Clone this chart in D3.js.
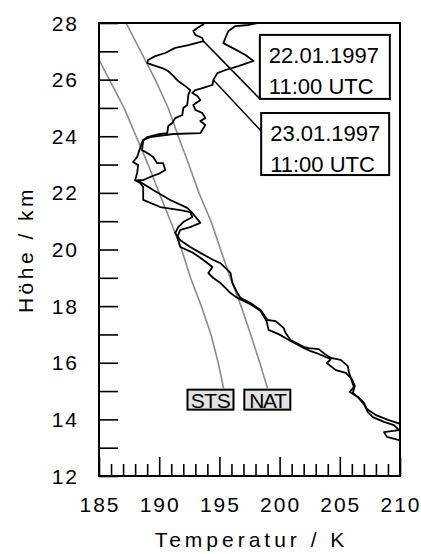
<!DOCTYPE html>
<html>
<head>
<meta charset="utf-8">
<script src="https://cdn.jsdelivr.net/npm/d3@7"></script>
<style>
  body { margin: 0; background: #fff; }
  text { font-family: "Liberation Sans", Arial, sans-serif; fill: #000; }
</style>
</head>
<body>
<div id="chart"></div>
<script>
// ---------- data ----------
const xTicks = [185, 190, 195, 200, 205, 210];
const yTicks = [12, 14, 16, 18, 20, 22, 24, 26, 28];

// STS / NAT existence temperatures (grey)
const stsT = [185.0, 185.86, 187.08, 188.08, 189.08, 190.0, 190.94, 191.86, 192.6, 193.5, 194.3, 194.9, 195.35];
const stsH = [26.7, 26.0, 25.0, 24.0, 23.0, 22.0, 21.0, 20.0, 19.0, 18.0, 17.0, 16.0, 15.1];
const natT = [187.25, 188.46, 189.67, 190.75, 191.58, 192.46, 193.3, 194.3, 195.1, 195.9, 196.8, 197.6, 198.35, 199.0];
const natH = [28.0, 27.0, 26.0, 25.0, 24.0, 23.0, 22.0, 21.0, 20.0, 19.0, 18.0, 17.0, 16.0, 15.1];

// 22.01.1997 11:00 UTC profile
const t2201 = [193.83, 193.67, 193.17, 192.83, 193.0, 193.58, 193.67, 192.42, 191.33, 190.5, 189.67, 189.08, 189.0, 189.42,
  190.25, 190.75, 191.17, 191.58, 192.17, 192.58, 192.42, 192.33, 192.0, 191.92, 191.33, 191.08, 190.75, 190.67, 190.08,
  189.0, 188.58, 188.17, 187.83, 188.25, 188.17, 188.0, 188.42, 188.67, 188.67, 190.08, 191.75, 192.58, 192.75, 192.0,
  191.58, 191.33, 191.75, 192.58, 193.42, 194.5, 195.08, 195.67, 195.92, 196.08, 196.5, 196.75, 197.58, 198.42, 199.0,
  199.67, 200.33, 200.5, 200.92, 202.0, 202.42, 203.25, 203.75, 204.25, 205.08, 205.67, 205.75, 205.92, 206.17, 205.83,
  206.5, 207.0, 207.25, 208.0, 209.0, 209.83, 210.5];
const h2201 = [28.07, 27.96, 27.82, 27.72, 27.58, 27.47, 27.36, 27.22, 27.12, 26.94, 26.83, 26.69, 26.59, 26.52,
  26.41, 26.3, 26.13, 25.95, 25.77, 25.63, 25.46, 25.1, 25.0, 24.75, 24.64, 24.47, 24.36, 24.11, 24.08,
  23.97, 23.8, 23.27, 23.09, 22.98, 22.7, 22.45, 22.35, 22.21, 21.75, 21.5, 21.39, 21.32, 21.15, 20.97,
  20.79, 20.58, 20.33, 20.09, 19.88, 19.63, 19.52, 19.28, 19.17, 18.82, 18.46, 18.29, 18.11, 17.86, 17.51,
  17.47, 17.23, 17.05, 16.8, 16.56, 16.52, 16.48, 16.31, 16.17, 16.1, 15.88, 15.67, 15.46, 15.14, 14.97,
  14.79, 14.58, 14.37, 14.15, 13.98, 13.87, 13.76];

// 23.01.1997 11:00 UTC profile
const t2301 = [198.58, 197.42, 196.33, 195.75, 195.5, 195.33, 196.08, 197.17, 197.83, 196.58, 195.5, 194.83, 194.5, 194.42,
  193.58, 193.0, 192.75, 193.17, 193.42, 192.83, 193.0, 193.58, 193.83, 193.42, 193.83, 193.58, 193.42, 191.17, 189.25,
  188.67, 188.58, 189.0, 189.5, 189.83, 190.33, 190.5, 190.08, 189.25, 188.67, 188.17, 189.5, 190.92, 192.33, 192.75,
  193.42, 192.58, 191.75, 191.5, 191.75, 192.83, 193.67, 194.42, 194.08, 194.5, 195.08, 195.92, 196.5, 197.58, 198.42,
  198.92, 199.08, 199.92, 200.92, 202.0, 202.58, 203.25, 204.25, 203.92, 204.67, 205.5, 206.0, 206.25, 206.08, 206.58,
  207.0, 207.33, 207.75, 208.67, 209.5, 209.92, 208.67, 208.92, 209.92, 210.5];
const h2301 = [28.04, 27.93, 27.89, 27.72, 27.47, 27.29, 27.12, 26.87, 26.66, 26.48, 26.34, 26.23, 25.99, 25.81,
  25.7, 25.63, 25.53, 25.42, 25.28, 25.1, 24.93, 24.82, 24.64, 24.54, 24.4, 24.22, 24.11, 24.08, 23.97,
  23.87, 23.51, 23.41, 23.27, 23.05, 23.05, 22.81, 22.7, 22.56, 22.45, 22.45, 22.1, 21.75, 21.47, 21.29,
  20.94, 20.79, 20.69, 20.44, 20.09, 19.88, 19.63, 19.38, 19.17, 18.99, 18.82, 18.46, 18.29, 18.07, 17.83,
  17.47, 17.16, 17.01, 16.77, 16.52, 16.41, 16.31, 16.13, 15.99, 15.74, 15.64, 15.42, 15.18, 14.93, 14.75,
  14.54, 14.26, 14.08, 13.91, 13.8, 13.62, 13.55, 13.38, 13.27, 13.16];

const dateLabels = [["22.01.1997", "11:00 UTC"], ["23.01.1997", "11:00 UTC"]];

// ---------- plot box ----------
const W = 421, H = 554;
const margin = { top: 23, right: 21, bottom: 78, left: 99 };
const width = W - margin.left - margin.right;    // 301
const height = H - margin.top - margin.bottom;   // 453

const svg = d3.select("#chart").append("svg")
  .attr("width", W).attr("height", H);

const g = svg.append("g")
  .attr("transform", `translate(${margin.left},${margin.top})`);

const x = d3.scaleLinear().domain([185, 210]).range([0, width]);
const y = d3.scaleLinear().domain([12, 28]).range([height, 0]);

svg.append("defs").append("clipPath").attr("id", "plotClip")
  .append("rect").attr("width", width).attr("height", height);

const zip = (ts, hs) => ts.map((t, i) => [t, hs[i]]);
const line = d3.line().x(d => x(d[0])).y(d => y(d[1]));

const plot = g.append("g").attr("clip-path", "url(#plotClip)");

// grey STS / NAT curves
[[stsT, stsH], [natT, natH]].forEach(([ts, hs]) => {
  plot.append("path")
    .datum(zip(ts, hs))
    .attr("fill", "none")
    .attr("stroke", "#8c8c8c")
    .attr("stroke-width", 1.6)
    .attr("d", line);
});

// black temperature profiles
[[t2201, h2201], [t2301, h2301]].forEach(([ts, hs]) => {
  plot.append("path")
    .datum(zip(ts, hs))
    .attr("fill", "none")
    .attr("stroke", "#000")
    .attr("stroke-width", 1.8)
    .attr("stroke-linejoin", "round")
    .attr("d", line);
});

// ---------- axes (ticks point inward) ----------
const xAxis = g.append("g")
  .attr("transform", `translate(0,${height})`)
  .call(d3.axisBottom(x).ticks(25).tickSize(-12).tickFormat(""));
xAxis.selectAll(".tick line")
  .attr("y2", d => d % 5 === 0 ? -19 : -12)
  .attr("stroke-width", 1.6);
xAxis.select(".domain").remove();

const yAxis = g.append("g")
  .call(d3.axisLeft(y).ticks(16).tickSize(-19).tickFormat(""));
yAxis.selectAll(".tick line").attr("stroke-width", 1.6);
yAxis.select(".domain").remove();

// frame
g.append("rect")
  .attr("width", width).attr("height", height)
  .attr("fill", "none").attr("stroke", "#000").attr("stroke-width", 2);

// tick labels
g.selectAll(".xlab").data(xTicks).join("text")
  .attr("x", d => x(d) + 1)
  .attr("y", height + 36)
  .attr("text-anchor", "middle")
  .attr("font-size", 21)
  .attr("letter-spacing", 2)
  .text(d => d);

g.selectAll(".ylab").data(yTicks).join("text")
  .attr("x", -20)
  .attr("y", d => y(d) + 7.5)
  .attr("text-anchor", "end")
  .attr("font-size", 21)
  .attr("letter-spacing", 2)
  .text(d => d);

// axis titles
svg.append("text")
  .attr("x", margin.left + width / 2 + 2)
  .attr("y", 547)
  .attr("text-anchor", "middle")
  .attr("font-size", 21)
  .attr("letter-spacing", 4)
  .text("Temperatur / K");

svg.append("text")
  .attr("transform", `translate(33,${margin.top + height / 2}) rotate(-90)`)
  .attr("text-anchor", "middle")
  .attr("font-size", 21)
  .attr("letter-spacing", 3.5)
  .text("Höhe / km");

// ---------- annotations ----------
// date boxes with leader lines to the profiles
const boxes = [
  { x0: 198.36, h0: 27.58, w: 130, hgt: 64, to: [193.67, 27.36], from: [0, 64] },
  { x0: 198.47, h0: 24.82, w: 128, hgt: 62, to: [194.5, 25.99], from: [0, 18] }
];
boxes.forEach((b, i) => {
  const bx = x(b.x0), by = y(b.h0);
  g.append("line")
    .attr("x1", x(b.to[0])).attr("y1", y(b.to[1]))
    .attr("x2", bx + b.from[0]).attr("y2", by + b.from[1])
    .attr("stroke", "#000").attr("stroke-width", 1.5);
  g.append("rect")
    .attr("x", bx).attr("y", by).attr("width", b.w).attr("height", b.hgt)
    .attr("fill", "#fff").attr("stroke", "#000").attr("stroke-width", 2);
  dateLabels[i].forEach((s, j) => {
    g.append("text")
      .attr("x", bx + 9)
      .attr("y", by + 28 + j * 31)
      .attr("font-size", 22)
      .text(s);
  });
});

// STS / NAT tags
const tags = [
  { name: "STS", t: 194.26, w: 46 },
  { name: "NAT", t: 198.98, w: 46 }
];
tags.forEach(tg => {
  const cx = x(tg.t), top = y(15.05);
  g.append("rect")
    .attr("x", cx - tg.w / 2).attr("y", top).attr("width", tg.w).attr("height", 20)
    .attr("fill", "#e2e2e2").attr("stroke", "#000").attr("stroke-width", 2);
  g.append("text")
    .attr("x", cx).attr("y", top + 18)
    .attr("text-anchor", "middle")
    .attr("font-size", 21)
    .attr("letter-spacing", tg.name === "NAT" ? -1.5 : -0.5)
    .text(tg.name);
});
</script>
</body>
</html>
